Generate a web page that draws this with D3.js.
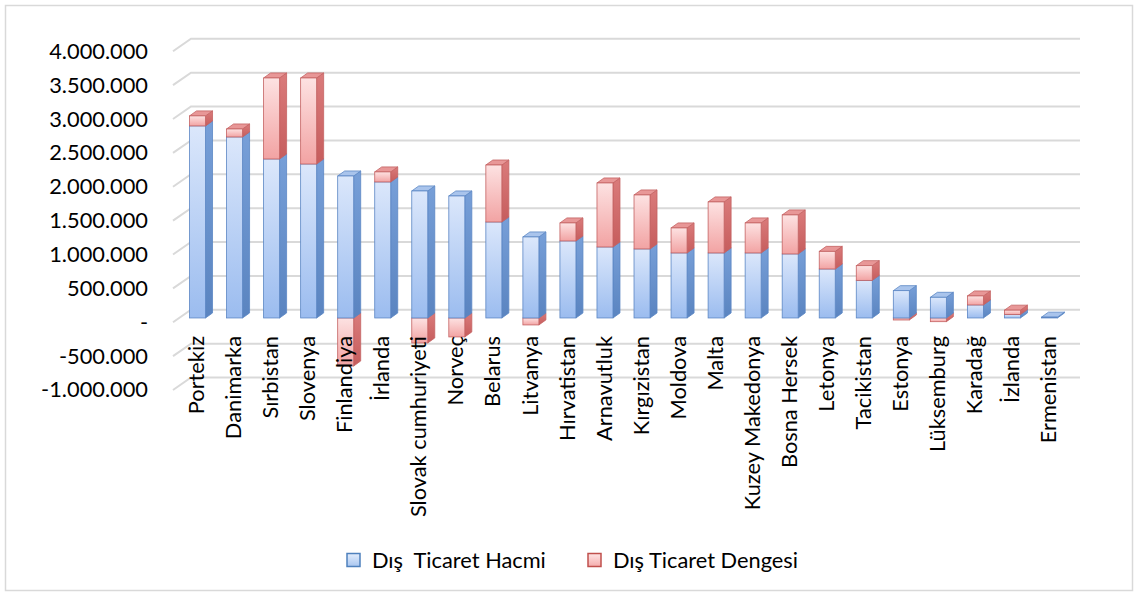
<!DOCTYPE html>
<html>
<head>
<meta charset="utf-8">
<script src="https://cdn.jsdelivr.net/npm/d3@7/dist/d3.min.js"></script>
<style>
  html, body { margin: 0; padding: 0; background: #fff; }
  svg { display: block; }
  text { font-family: Lato, "Open Sans", sans-serif; fill: #000; }
</style>
</head>
<body>
<svg id="chart" width="1136" height="596"></svg>
<script>
// ---- data ----
const categories = ["Portekiz", "Danimarka", "Sırbistan", "Slovenya", "Finlandiya", "İrlanda",
  "Slovak cumhuriyeti", "Norveç", "Belarus", "Litvanya", "Hırvatistan", "Arnavutluk",
  "Kırgızistan", "Moldova", "Malta", "Kuzey Makedonya", "Bosna Hersek", "Letonya",
  "Tacikistan", "Estonya", "Lüksemburg", "Karadağ", "İzlanda", "Ermenistan"];
const hacmi = [2835000, 2672000, 2347000, 2273000, 2096000, 2008000,
  1875000, 1801000, 1417000, 1196000, 1137000, 1048000,
  1019000, 960000, 960000, 960000, 945000, 723000,
  555000, 403000, 305000, 192000, 50000, 12000];
const denge = [148000, 118000, 1196000, 1270000, -709000, 148000,
  -369000, -280000, 841000, -103000, 266000, 945000,
  797000, 369000, 753000, 443000, 576000, 260000,
  217000, -30000, -55000, 133000, 65000, 0];
const seriesNames = ["Dış  Ticaret Hacmi", "Dış Ticaret Dengesi"];
const tickValues = [-1000000, -500000, 0, 500000, 1000000, 1500000, 2000000, 2500000, 3000000, 3500000, 4000000];
const tickLabels = ["-1.000.000", "-500.000", "-", "500.000", "1.000.000", "1.500.000", "2.000.000", "2.500.000", "3.000.000", "3.500.000", "4.000.000"];

// ---- layout ----
const svg = d3.select("#chart");
const W = 1136, H = 596;
const wallDX = 18, wallDY = -12.5;   // back wall offset
const barDX = 6, barDY = -4.3;       // bar plane offset
const depthDX = 7, depthDY = -5;     // bar depth
const barW = 16;
const FS = 21.8;

const x = d3.scaleBand().domain(categories).range([173, 1062]).padding(0);
const y = d3.scaleLinear().domain([-1000000, 4000000]).range([390, 51.3]);

svg.append("rect").attr("width", W).attr("height", H).attr("fill", "#fff");
svg.append("rect").attr("x", 5.5).attr("y", 5.5).attr("width", 1127).attr("height", 585)
  .attr("fill", "none").attr("stroke", "#d9d9d9").attr("stroke-width", 1.5);

// gradients
const defs = svg.append("defs");
function grad(id, stops, horiz) {
  const g = defs.append("linearGradient").attr("id", id)
    .attr("x1", 0).attr("y1", 0).attr("x2", horiz ? 1 : 0).attr("y2", horiz ? 0 : 1);
  stops.forEach(s => g.append("stop").attr("offset", s[0]).attr("stop-color", s[1]));
}
grad("bFront", [[0, "#dbe7fb"], [1, "#9bbcef"]]);
grad("bSide", [[0, "#779fd8"], [1, "#5a84c0"]]);
grad("rFront", [[0, "#fde2e2"], [1, "#f2a3a3"]]);
grad("rSide", [[0, "#da7b7b"], [1, "#c65d5d"]]);
grad("bLeg", [[0, "#e3edfc"], [1, "#a9c6f0"]]);
grad("rLeg", [[0, "#fee5e5"], [1, "#f5adad"]]);

// gridlines (back wall + side wall)
const grid = svg.append("g");
tickValues.forEach(v => {
  const yf = y(v);
  grid.append("path")
    .attr("d", `M${x.range()[0]},${yf} L${x.range()[0] + wallDX},${yf + wallDY} L${x.range()[1] + wallDX},${yf + wallDY}`)
    .attr("fill", "none").attr("stroke", "#d9d9d9").attr("stroke-width", 2);
});

// y axis labels via d3 axis
const yAxis = d3.axisLeft(y).tickValues(tickValues).tickSize(0).tickPadding(0)
  .tickFormat((d, i) => tickLabels[i]);
const ya = svg.append("g").attr("transform", "translate(148,0)").call(yAxis);
ya.select(".domain").remove();
ya.selectAll("text").attr("font-family", "Lato, sans-serif").attr("font-size", FS).attr("fill", "#000");

// bars
const bars = svg.append("g");
function drawSeg(c, v0, v1, kind) {
  if (v0 === v1) return;
  const cx = x(c) + x.bandwidth() / 2 + barDX;
  const fx = cx - barW / 2;
  const top = y(Math.max(v0, v1)) + barDY;
  const bot = y(Math.min(v0, v1)) + barDY;
  const stroke = kind === "b" ? "#5b86c4" : "#c46262";
  const g = bars.append("g");
  g.append("path")
    .attr("d", `M${fx + barW},${top} L${fx + barW + depthDX},${top + depthDY} L${fx + barW + depthDX},${bot + depthDY} L${fx + barW},${bot} Z`)
    .attr("fill", `url(#${kind}Side)`).attr("stroke", stroke).attr("stroke-width", 0.8);
  g.append("path")
    .attr("d", `M${fx},${top} L${fx + depthDX},${top + depthDY} L${fx + barW + depthDX},${top + depthDY} L${fx + barW},${top} Z`)
    .attr("fill", kind === "b" ? "#a9c4ec" : "#e89797").attr("stroke", stroke).attr("stroke-width", 0.8);
  g.append("rect").attr("x", fx).attr("y", top).attr("width", barW).attr("height", Math.max(0.5, bot - top))
    .attr("fill", `url(#${kind}Front)`).attr("stroke", stroke).attr("stroke-width", 0.8);
}
categories.forEach((c, i) => {
  const h = hacmi[i], d = denge[i];
  if (d < 0) drawSeg(c, 0, d, "r");
  drawSeg(c, 0, h, "b");
  if (d > 0) drawSeg(c, h, h + d, "r");
});

// x labels
svg.append("g").selectAll("text").data(categories).join("text")
  .attr("transform", c => `translate(${x(c) + x.bandwidth() / 2 + barDX - 1},336) rotate(-90)`)
  .attr("text-anchor", "end").attr("dy", "0.35em")
  .attr("font-size", FS)
  .text(c => c);

// legend
const leg = svg.append("g");
const legItems = [
  { name: seriesNames[0], fill: "url(#bLeg)", stroke: "#4f81bd", lx: 347, tx: 372 },
  { name: seriesNames[1], fill: "url(#rLeg)", stroke: "#c0504d", lx: 588, tx: 613 }
];
legItems.forEach(it => {
  leg.append("rect").attr("x", it.lx).attr("y", 553.5).attr("width", 13).attr("height", 13)
    .attr("fill", it.fill).attr("stroke", it.stroke).attr("stroke-width", 1.5);
  leg.append("text").attr("x", it.tx).attr("y", 560).attr("dy", "0.35em")
    .attr("font-size", FS).style("white-space", "pre").text(it.name);
});
</script>
</body>
</html>
